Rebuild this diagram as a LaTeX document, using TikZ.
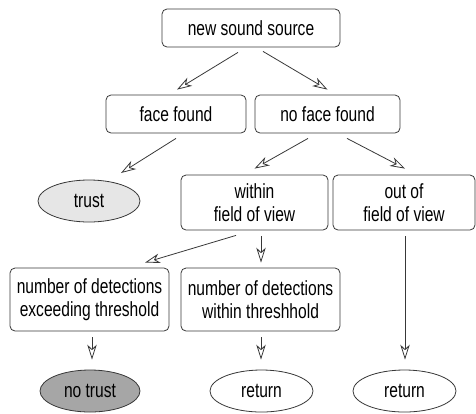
\documentclass[tikz,border=0pt]{standalone}
\usepackage{fontspec}
\setmainfont{Liberation Sans}[FakeStretch=0.76]
\usetikzlibrary{arrows.meta,calc,shapes.geometric}
\definecolor{linec}{HTML}{383838}
\definecolor{lightfill}{HTML}{E6E6E6}
\definecolor{darkfill}{HTML}{A6A6A6}
\tikzset{
  boxnode/.style={draw=linec, line width=0.8pt, rounded corners=5pt, rectangle, align=center,
    inner sep=0pt, font=\fontsize{20.5}{23}\selectfont},
  ovalnode/.style={draw=linec, line width=0.8pt, ellipse, inner sep=0pt,
    font=\fontsize{20.5}{23}\selectfont},
  conn/.style={draw=linec, line width=0.8pt,
    -{Stealth[open,length=15pt,width=9.5pt,inset=4.5pt]}}
}
\begin{document}
\begin{tikzpicture}[x=1pt,y=-1pt]
\useasboundingbox (0,0) rectangle (476,413);
\node[boxnode, minimum width=178pt, minimum height=38pt] (src) at (251,28) {new sound source};
\node[boxnode, minimum width=140pt, minimum height=38pt] (face) at (176,114) {face found};
\node[boxnode, minimum width=145pt, minimum height=38pt] (noface) at (327.5,114) {no face found};
\node[ovalnode, fill=lightfill, minimum width=102pt, minimum height=42pt] (trust) at (89,201) {trust};
\node[boxnode, minimum width=147pt, minimum height=55pt] (within) at (254.5,202.5) {within\\field of view};
\node[boxnode, minimum width=142pt, minimum height=55pt] (outof) at (404,202.5) {out of\\field of view};
\node[boxnode, minimum width=159pt, minimum height=63pt] (exceed) at (89.5,299.5) {number of detections\\exceeding threshold};
\node[boxnode, minimum width=159pt, minimum height=63pt] (withinth) at (260.5,299.5) {number of detections\\within threshhold};
\node[ovalnode, fill=darkfill, minimum width=100pt, minimum height=42pt] (notrust) at (90,391) {no trust};
\node[ovalnode, minimum width=103pt, minimum height=42pt] (ret1) at (261.5,391) {return};
\node[ovalnode, minimum width=103pt, minimum height=42pt] (ret2) at (404.5,391) {return};

\draw[conn] ($(src.south)+(-13,5)$) -- ($(face.north)+(1,-5)$);
\draw[conn] ($(src.south)+(12,4)$) -- ($(noface.north)+(0,-5)$);
\draw[conn] ($(face.south)+(0,5)$) -- ($(trust.center)+(32,-28)$);
\draw[conn] ($(noface.south)+(-19.5,5)$) -- ($(within.north)+(0,-6)$);
\draw[conn] ($(noface.south)+(19.5,5)$) -- ($(outof.north)+(1,-6)$);
\draw[conn] ($(within.south)+(-18.5,5)$) -- ($(exceed.north)+(55.5,-5)$);
\draw[conn] ($(within.south -| withinth.north)+(0.5,6)$) -- ($(withinth.north)+(0.5,-5)$);
\draw[conn] ($(outof.south)+(1,6)$) -- ($(ret2.north)+(0.5,-10)$);
\draw[conn] ($(exceed.south)+(2.5,6)$) -- ($(notrust.north)+(2,-10)$);
\draw[conn] ($(withinth.south)+(0.5,6)$) -- ($(ret1.north)+(-0.5,-10)$);
\end{tikzpicture}
\end{document}
